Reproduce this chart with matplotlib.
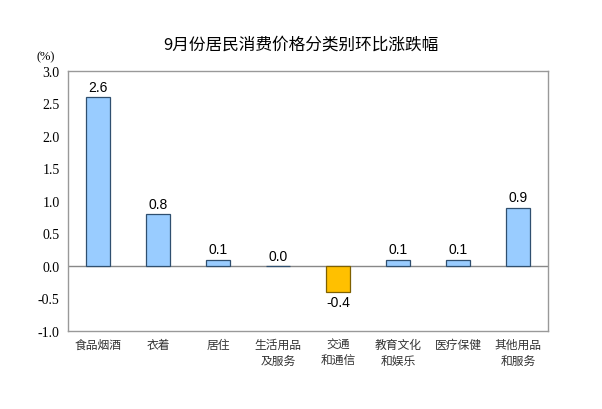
import matplotlib.pyplot as plt
import numpy as np

plt.rcParams['font.family'] = ['Noto Sans CJK SC', 'DejaVu Sans']

categories = ['食品烟酒', '衣着', '居住', '生活用品\n及服务', '交通\n和通信',
              '教育文化\n和娱乐', '医疗保健', '其他用品\n和服务']
values = [2.6, 0.8, 0.1, 0.0, -0.4, 0.1, 0.1, 0.9]
yticks = [-1.0, -0.5, 0.0, 0.5, 1.0, 1.5, 2.0, 2.5, 3.0]

fig = plt.figure(figsize=(6.02, 4.10), dpi=100)
ax = fig.add_axes([68 / 602, 1 - 332 / 410, 480 / 602, 260 / 410])

x = np.arange(len(values))
colors = ['#FFC000' if v < 0 else '#99CCFF' for v in values]
edges = ['#7F6000' if v < 0 else '#2F4F6F' for v in values]
ax.bar(x, values, width=0.4, color=colors, edgecolor=edges, linewidth=0.9, zorder=3)

# value labels
for i, v in enumerate(values):
    if v < 0:
        ax.text(i, v - 0.05, f'{v:.1f}', ha='center', va='top',
                fontsize=10, family='Liberation Sans')
    else:
        ax.text(i, v + 0.05, f'{v:.1f}', ha='center', va='bottom',
                fontsize=10, family='Liberation Sans')

ax.axhline(0, color='#888888', linewidth=1, zorder=2)
ax.set_xlim(-0.5, len(values) - 0.5)
ax.set_ylim(-1.0, 3.0)
ax.set_yticks(yticks)
ax.set_yticklabels([f'{t:.1f}' for t in yticks], family='Liberation Serif', fontsize=10)
ax.set_xticks(x)
ax.set_xticklabels(categories, fontsize=8.5, color='#333333', linespacing=1.3, va='top')
ax.tick_params(length=0, pad=6)
ax.tick_params(axis='x', pad=5)
for s in ax.spines.values():
    s.set_color('#999999')
    s.set_linewidth(1)

fig.text(0.5, 1 - 45 / 410, '9月份居民消费价格分类别环比涨跌幅', ha='center', va='center', fontsize=12)
fig.text(46 / 602, 1 - 57 / 410, '(%)', ha='center', va='center', fontsize=9, family='Liberation Serif')

fig.savefig('out.png', dpi=100)
